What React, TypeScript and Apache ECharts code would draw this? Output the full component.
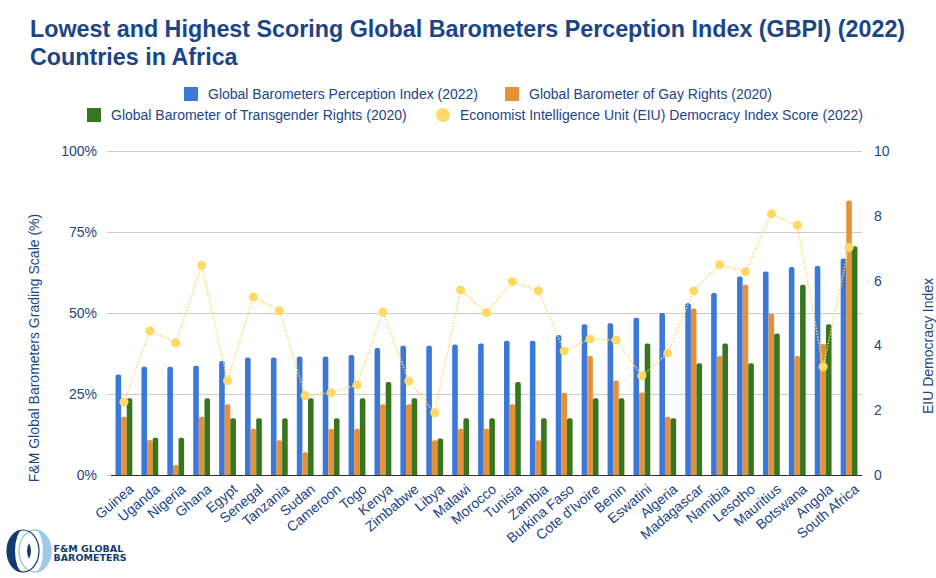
import React, { useEffect, useRef } from "react";
import * as echarts from "echarts";

const categories = [
  "Guinea", "Uganda", "Nigeria", "Ghana", "Egypt", "Senegal", "Tanzania", "Sudan", "Cameroon", "Togo",
  "Kenya", "Zimbabwe", "Libya", "Malawi", "Morocco", "Tunisia", "Zambia", "Burkina Faso", "Cote d'Ivoire", "Benin",
  "Eswatini", "Algeria", "Madagascar", "Namibia", "Lesotho", "Mauritius", "Botswana", "Angola", "South Africa",
];
const gbpi = [
  31, 33.4, 33.4, 33.7, 35.2, 36.3, 36.3, 36.6, 36.6, 37,
  39.2, 39.9, 39.9, 40.3, 40.6, 41.4, 41.4, 43.2, 46.5, 46.8,
  48.5, 50, 53, 56.2, 61.3, 62.8, 64.2, 64.5, 66.8,
];
const gayRights = [
  18, 10.8, 3.1, 18, 21.8, 14.3, 10.7, 7, 14.3, 14.3,
  21.8, 21.8, 10.7, 14.3, 14.3, 21.8, 10.7, 25.4, 36.7, 29.2,
  25.5, 18, 51.4, 36.7, 58.7, 49.8, 36.7, 40.4, 84.7,
];
const transRights = [
  23.7, 11.5, 11.5, 23.7, 17.5, 17.5, 17.5, 23.7, 17.5, 23.7,
  28.7, 23.7, 11.3, 17.5, 17.5, 28.7, 17.5, 17.5, 23.7, 23.7,
  40.6, 17.5, 34.5, 40.6, 34.5, 43.7, 58.7, 46.5, 70.6,
];
const eiu = [
  2.25, 4.45, 4.08, 6.47, 2.91, 5.5, 5.07, 2.45, 2.54, 2.78,
  5.03, 2.9, 1.92, 5.71, 5.01, 5.97, 5.69, 3.83, 4.2, 4.17,
  3.06, 3.76, 5.68, 6.49, 6.27, 8.06, 7.71, 3.34, 7.03,
];
const seriesNames = [
  "Global Barometers Perception Index (2022)",
  "Global Barometer of Gay Rights (2020)",
  "Global Barometer of Transgender Rights (2020)",
  "Economist Intelligence Unit (EIU) Democracy Index Score (2022)",
];
const leftAxisRange = { min: 0, max: 100, interval: 25 };
const rightAxisRange = { min: 0, max: 10, interval: 2 };
const titleText = "Lowest and Highest Scoring Global Barometers Perception Index (GBPI) (2022)\nCountries in Africa";
const leftAxisTitle = "F&M Global Barometers Grading Scale (%)";
const rightAxisTitle = "EIU Democracy Index";
const logoLines = ["F&M GLOBAL", "BAROMETERS"];

const FONT = "'Liberation Sans', Arial, sans-serif";
const LOGO_FONT = "'DejaVu Sans', Verdana, sans-serif";
const NAVY = "#1c4587";
const BLUE = "#3c78d8";
const ORANGE = "#e69138";
const GREEN = "#38761d";
const YELLOW = "#ffd966";
const LOGO_DARK = "#123b6f";
const LOGO_LIGHT = "#9ecae6";

let shapesRegistered = false;
function registerShapes() {
  if (shapesRegistered) return;
  shapesRegistered = true;
  echarts.graphic.registerShape(
    "crescentLeft",
    echarts.graphic.extendPath("M0 -21 A16 21 0 0 0 0 21 A8 21 0 0 1 0 -21 Z", {})
  );
  echarts.graphic.registerShape(
    "crescentRight",
    echarts.graphic.extendPath("M0 -21 A16 21 0 0 1 0 21 A8 21 0 0 0 0 -21 Z", {})
  );
  echarts.graphic.registerShape(
    "lens",
    echarts.graphic.extendPath("M0 -8 Q4 0 0 8 Q-4 0 0 -8 Z", {})
  );
}

export default function App() {
  const ref = useRef<HTMLDivElement>(null);

  useEffect(() => {
    if (!ref.current) return;
    registerShapes();
    const chart = echarts.init(ref.current, undefined, { renderer: "svg" });
    const barCommon = {
      type: "bar",
      barWidth: 5.6,
      barGap: "0%",
      yAxisIndex: 0,
    };
    const legendCommon = {
      padding: 0,
      itemWidth: 14,
      itemHeight: 14,
      itemGap: 28,
      textStyle: { fontSize: 14, color: NAVY, fontFamily: FONT, padding: [0, 0, 0, 5] },
    };
    const option: any = {
      animation: false,
      backgroundColor: "#ffffff",
      textStyle: { fontFamily: FONT },
      title: {
        text: titleText,
        left: 25,
        top: 10,
        textStyle: { fontSize: 23.3, fontWeight: "bold", color: NAVY, lineHeight: 28, fontFamily: FONT },
      },
      legend: [
        {
          ...legendCommon,
          left: 184,
          top: 87,
          itemGap: 27,
          data: [
            { name: seriesNames[0], icon: "rect" },
            { name: seriesNames[1], icon: "rect" },
          ],
        },
        {
          ...legendCommon,
          left: 87,
          top: 108,
          itemGap: 29,
          data: [
            { name: seriesNames[2], icon: "rect" },
            { name: seriesNames[3], icon: "circle" },
          ],
        },
      ],
      grid: { left: 111, right: 74, top: 151, bottom: 103 },
      xAxis: {
        type: "category",
        data: categories,
        axisLine: { lineStyle: { color: "#333333", width: 1 } },
        axisTick: { show: false },
        axisLabel: {
          rotate: 40,
          color: NAVY,
          fontSize: 14,
          margin: 9,
          interval: 0,
          verticalAlign: "top",
          padding: [0, -4, 0, 0],
          fontFamily: FONT,
        },
      },
      yAxis: [
        {
          type: "value",
          ...leftAxisRange,
          axisLine: { show: false },
          axisTick: { show: true, length: 4, lineStyle: { color: "#cccccc" } },
          axisLabel: { formatter: "{value}%", color: NAVY, fontSize: 14, margin: 14, fontFamily: FONT },
          splitLine: { lineStyle: { color: "#cccccc", width: 1 } },
        },
        {
          type: "value",
          position: "right",
          ...rightAxisRange,
          axisLine: { show: false },
          axisTick: { show: false },
          axisLabel: { color: NAVY, fontSize: 14, margin: 12, fontFamily: FONT },
          splitLine: { show: false },
        },
      ],
      series: [
        { ...barCommon, name: seriesNames[0], data: gbpi, itemStyle: { color: BLUE, borderRadius: [2, 2, 0, 0] } },
        { ...barCommon, name: seriesNames[1], data: gayRights, itemStyle: { color: ORANGE, borderRadius: [2, 2, 0, 0] } },
        { ...barCommon, name: seriesNames[2], data: transRights, itemStyle: { color: GREEN, borderRadius: [2, 2, 0, 0] } },
        {
          type: "line",
          name: seriesNames[3],
          data: eiu,
          yAxisIndex: 1,
          symbol: "circle",
          symbolSize: 9,
          z: 5,
          itemStyle: { color: YELLOW },
          lineStyle: { color: YELLOW, width: 1.5, type: "dotted" },
        },
      ],
      graphic: [
        {
          type: "text",
          x: 34,
          y: 348,
          rotation: Math.PI / 2,
          style: {
            text: leftAxisTitle,
            fill: NAVY,
            font: `14px ${FONT}`,
            textAlign: "center",
            textVerticalAlign: "middle",
          },
        },
        {
          type: "text",
          x: 928,
          y: 346,
          rotation: Math.PI / 2,
          style: {
            text: rightAxisTitle,
            fill: NAVY,
            font: `14px ${FONT}`,
            textAlign: "center",
            textVerticalAlign: "middle",
          },
        },
        {
          type: "ellipse",
          shape: { cx: 35, cy: 551, rx: 16, ry: 21 },
          style: { fill: "none", stroke: LOGO_LIGHT, lineWidth: 1.5 },
        },
        {
          type: "ellipse",
          shape: { cx: 23, cy: 551, rx: 16, ry: 21 },
          style: { fill: "none", stroke: LOGO_DARK, lineWidth: 1.2 },
        },
        { type: "crescentRight", x: 35, y: 551, style: { fill: LOGO_LIGHT } },
        { type: "crescentLeft", x: 23, y: 551, style: { fill: LOGO_DARK } },
        { type: "lens", x: 29, y: 551, style: { fill: LOGO_DARK } },
        {
          type: "text",
          x: 53.5,
          y: 548.3,
          style: {
            text: logoLines[0],
            fill: LOGO_DARK,
            font: `bold 9.5px ${LOGO_FONT}`,
            textAlign: "left",
            textVerticalAlign: "middle",
          },
        },
        {
          type: "text",
          x: 53.5,
          y: 557.8,
          style: {
            text: logoLines[1],
            fill: LOGO_DARK,
            font: `bold 9.5px ${LOGO_FONT}`,
            textAlign: "left",
            textVerticalAlign: "middle",
          },
        },
      ],
    };
    chart.setOption(option);
    return () => chart.dispose();
  }, []);

  return (
    <div
      ref={ref}
      style={{ position: "fixed", left: 0, top: 0, width: 936, height: 578, background: "#ffffff" }}
    />
  );
}
